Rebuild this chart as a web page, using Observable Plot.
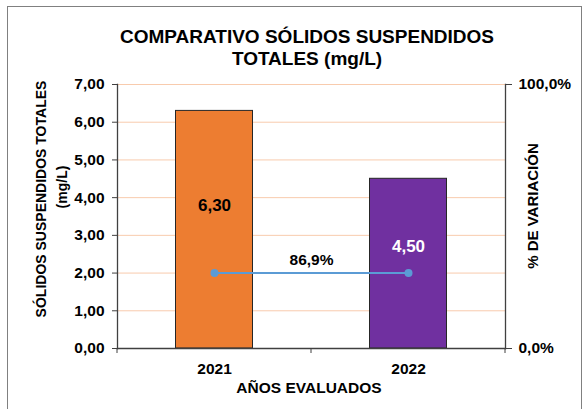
<!DOCTYPE html>
<html><head><meta charset="utf-8">
<script src="https://cdn.jsdelivr.net/npm/d3@7"></script>
<script src="https://cdn.jsdelivr.net/npm/@observablehq/plot@0.6"></script>
<style>
body{margin:0;background:#fff;font-family:"Liberation Sans",Arial,sans-serif;}
#wrap{position:relative;width:585px;height:409px;overflow:hidden}
#chart{position:absolute;left:0;top:0}
#border{position:absolute;left:7px;top:6px;width:575px;height:410px;border:1px solid #808080;box-sizing:border-box}
.t{position:absolute;font-weight:bold;color:#000;white-space:nowrap;line-height:1}
.c{transform:translate(-50%,-50%)}
.r{transform:translate(-50%,-50%) rotate(-90deg)}
</style></head><body>
<div id="wrap">
<div id="border"></div>
<div id="chart"></div>
</div>
<script>
// ---- data ----
const title1 = "COMPARATIVO  SÓLIDOS SUSPENDIDOS";
const title2 = "TOTALES (mg/L)";
const yTitle1 = "SÓLIDOS  SUSPENDIDOS  TOTALES";
const yTitle2 = "(mg/L)";
const y2Title = "% DE VARIACIÓN";
const xTitle = "AÑOS EVALUADOS";
const years = ["2021", "2022"];
const values = [6.30, 4.50];
const barColors = ["#ED7D31", "#7030A0"];
const labelColors = ["#000000", "#FFFFFF"];
const variation = 0.869;            // label value
const variationPos = [0.286, 0.286]; // position of the line on the secondary axis
const yTicks = [0, 1, 2, 3, 4, 5, 6, 7];
const pctTicks = [0, 1];

const yMax = 7;
const fmt2 = d => d.toFixed(2).replace(".", ",");
const fmtPct = p => (p * 100).toFixed(1).replace(".", ",") + "%";

const bars = years.map((y, i) => ({year: y, value: values[i], label: labelColors[i]}));
const lineData = years.map((y, i) => ({year: y, pct: variationPos[i]}));

const W = 585, H = 409;
const mL = 117, mR = 80, mT = 84, mB = 61;
const step = (W - mL - mR) / years.length;
const barW = 77;
const inset = (step - barW) / 2;
const axisColor = "#404040";
const font = {fontSize: 15.5, fontWeight: "bold", fill: "#000"};

const boundaryTicks = (index, scales, values, dims) => {
  const g = d3.create("svg:g");
  const y0 = dims.height - dims.marginBottom;
  for (let i = 0; i <= years.length; i++) {
    const x = dims.marginLeft + i * step;
    g.append("line").attr("x1", x).attr("x2", x).attr("y1", y0).attr("y2", y0 + 5)
      .attr("stroke", axisColor).attr("stroke-width", 1);
  }
  return g.node();
};

const chart = Plot.plot({
  width: W, height: H,
  marginLeft: mL, marginRight: mR, marginTop: mT, marginBottom: mB,
  style: {fontFamily: '"Liberation Sans", Arial, sans-serif', background: "transparent"},
  x: {domain: years, padding: 0, axis: null},
  y: {domain: [0, yMax], axis: null},
  color: {domain: years, range: barColors},
  marks: [
    Plot.ruleY(yTicks.filter(d => d > 0), {stroke: "#F8CBAD", strokeWidth: 1}),
    Plot.barY(bars, {x: "year", y: "value", fill: "year", stroke: "#262626", strokeWidth: 1, insetLeft: inset, insetRight: inset}),
    Plot.frame({anchor: "left", stroke: axisColor, strokeWidth: 1.3}),
    Plot.frame({anchor: "right", stroke: axisColor, strokeWidth: 1.3}),
    Plot.frame({anchor: "bottom", stroke: axisColor, strokeWidth: 1.3}),
    Plot.axisY(yTicks, {anchor: "left", tickSize: 5, tickPadding: 8, tickFormat: fmt2, label: null, stroke: axisColor, ...font}),
    Plot.axisY(pctTicks.map(p => p * yMax), {anchor: "right", tickSize: 6, tickPadding: 7, tickFormat: d => fmtPct(d / yMax), label: null, stroke: axisColor, ...font}),
    Plot.axisX({tickSize: 0, tickPadding: 14, label: null, ...font}),
    boundaryTicks,
    Plot.line(lineData, {x: "year", y: d => d.pct * yMax, stroke: "#5B9BD5", strokeWidth: 2}),
    Plot.dot(lineData, {x: "year", y: d => d.pct * yMax, fill: "#5B9BD5", r: 4}),
    Plot.text([variation], {y: () => variationPos[0] * yMax, text: d => fmtPct(d), dy: -13, ...font}),
    Plot.text(bars, {x: "year", y: d => d.value * 0.6, text: d => fmt2(d.value), fill: "label", fontSize: 17, fontWeight: "bold"})
  ]
});
document.getElementById("chart").appendChild(chart);

const wrap = document.getElementById("wrap");
function addText(txt, x, y, cls, size) {
  const d = document.createElement("div");
  d.className = "t " + cls;
  d.style.left = x + "px"; d.style.top = y + "px"; d.style.fontSize = size + "px";
  d.textContent = txt;
  wrap.appendChild(d);
}
addText(title1, 307, 36, "c", 19);
addText(title2, 307, 58, "c", 19);
addText(yTitle1, 41, 199, "r", 14);
addText(yTitle2, 62, 187, "r", 14);
addText(y2Title, 532, 206, "r", 15);
addText(xTitle, 309, 388, "c", 15.5);
</script>
</body></html>
